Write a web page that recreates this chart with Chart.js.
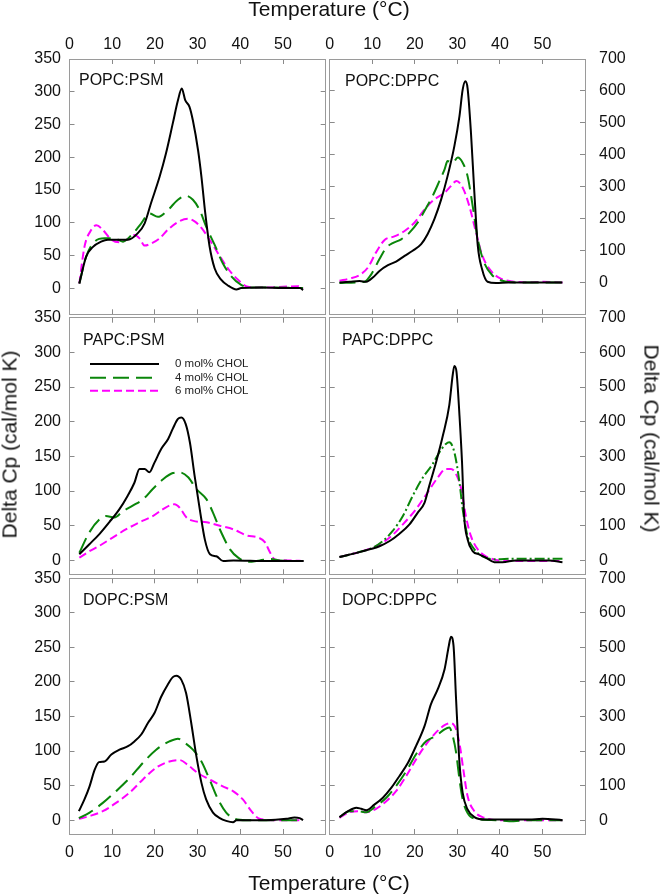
<!DOCTYPE html>
<html>
<head>
<meta charset="utf-8">
<script src="https://cdn.jsdelivr.net/npm/chart.js@4.4.0/dist/chart.umd.min.js"></script>
<style>
  body { margin: 0; background: #fff; }
  #page { position: relative; width: 660px; height: 896px; overflow: hidden; font-family: "Liberation Sans", Arial, sans-serif; color: #111; }
  #page canvas { position: absolute; left: 0; top: 0; }
  .txt { position: absolute; white-space: nowrap; }
  .panel-name { font-size: 16px; line-height: 16px; }
  .title { font-size: 21px; line-height: 21px; width: 300px; text-align: center; }
</style>
</head>
<body>
<div id="page"></div>
<script>
// axis ticks and names
const tempTicks = [0, 10, 20, 30, 40, 50];
const psmTicks = [0, 50, 100, 150, 200, 250, 300, 350];
const dppcTicks = [0, 100, 200, 300, 400, 500, 600, 700];
const panelNames = ["POPC:PSM", "POPC:DPPC", "PAPC:PSM", "PAPC:DPPC", "DOPC:PSM", "DOPC:DPPC"];
const seriesNames = ["0 mol% CHOL", "4 mol% CHOL", "6 mol% CHOL"];

// [temperature (°C), delta Cp]
const popcPsm0 = [[2.3,7],[3.9,48],[5.5,63],[7.4,71],[9.0,74],[11.3,74],[13.7,74],[16.0,84],[17.6,99],[19.1,130],[21.1,170],[22.6,206],[24.2,252],[25.4,287],[26.3,305],[27.1,287],[28.1,277],[28.9,256],[30.1,211],[30.9,170],[31.8,114],[32.8,64],[34.0,30],[35.5,13],[37.1,4],[39.1,-2],[40.2,0],[45,1],[50,0],[54,0],[54.7,-3]];
const popcPsm4 = [[2.3,7],[3.9,48],[5.9,71],[8.2,76],[10.5,76],[12.5,71],[14.5,81],[16.8,99],[18.7,114],[20.7,109],[23.0,119],[25.4,135],[27.3,141],[28.9,135],[30.5,119],[32.0,94],[34.0,66],[35.9,38],[37.9,18],[40.2,5],[42.2,1],[48,1],[54.7,0]];
const popcPsm6 = [[2.3,7],[3.5,63],[5.1,89],[6.3,96],[7.8,89],[9.8,74],[11.7,70],[13.7,75],[15.2,81],[16.4,76],[17.6,65],[19.1,68],[21.1,76],[23.0,89],[25.4,101],[27.7,106],[29.3,102],[30.9,92],[32.8,74],[34.8,53],[37.1,30],[39.4,13],[41.8,2],[45,1],[50,2],[53.5,3],[54.7,-1]];

const popcDppc0 = [[2.3,0],[4.7,2],[7.0,4],[8.6,2],[10.2,16],[11.7,36],[13.7,54],[15.6,65],[17.6,83],[19.5,99],[21.5,120],[23.0,151],[24.6,198],[26.2,260],[27.7,333],[29.3,427],[30.5,521],[31.25,604],[31.9,630],[32.4,609],[33.2,469],[34.0,281],[34.8,115],[35.8,42],[37.1,2],[39.1,-2],[42,0],[54.7,0]];
const popcDppc4 = [[2.3,-2],[6.25,0],[8.2,2],[9.8,26],[11.7,73],[13.3,109],[14.8,123],[16.8,135],[18.75,156],[20.7,188],[22.7,234],[24.2,271],[25.8,318],[27.0,354],[27.7,380],[28.9,375],[30.1,391],[31.25,375],[32.4,333],[33.6,240],[34.8,135],[36.3,62],[38.3,21],[40.6,5],[43.75,0],[54.7,0]];
const popcDppc6 = [[2.3,5],[4.7,12],[7.0,23],[9.0,47],[10.9,94],[12.9,133],[15.2,144],[17.6,161],[19.9,187],[22.3,229],[24.6,260],[27.0,281],[28.5,302],[29.8,318],[31.25,297],[32.8,240],[34.4,156],[35.9,83],[37.9,36],[40.2,12],[43.0,3],[46.9,0],[50.0,2],[54.7,0]];

const papcPsm0 = [[2.3,9],[4.6,23],[7.0,38],[9.3,55],[11.7,74],[13.6,93],[15.2,112],[16.4,132],[17.6,132],[18.7,127],[19.9,141],[21.5,161],[23.1,175],[24.2,190],[25.4,204],[26.2,206],[27.2,197],[28.2,170],[29.3,122],[30.5,74],[31.7,30],[32.9,9],[34.4,6],[36.0,-1],[38.4,0],[46.2,-1],[54.8,-1]];
const papcPsm4 = [[2.3,11],[4.6,40],[7.0,59],[8.5,64],[10.5,62],[12.5,71],[14.8,79],[17.2,88],[19.5,103],[21.9,117],[24.2,126],[25.8,127],[27.8,120],[29.7,103],[32.1,88],[33.6,69],[35.2,45],[37.6,16],[39.5,4],[41.9,-2],[44.6,0],[47.0,2],[49.3,0],[54.8,-1]];
const papcPsm6 = [[2.3,4],[4.6,13],[7.0,21],[10.1,33],[13.3,45],[16.4,55],[19.5,64],[21.9,74],[24.6,81],[25.8,76],[27.4,62],[29.0,57],[32.1,55],[35.2,50],[38.3,45],[41.5,36],[44.2,33],[45.8,26],[47.0,11],[48.2,1],[51.7,0],[54.8,-1]];

const papcDppc0 = [[2.3,10],[4.7,17],[7.0,24],[9.4,32],[11.7,41],[14.1,56],[16.4,77],[18.75,104],[20.7,138],[22.3,167],[23.4,215],[25.0,283],[26.6,360],[28.1,447],[28.9,534],[29.3,561],[29.8,544],[30.5,418],[31.1,283],[31.6,128],[32.4,61],[33.6,27],[35.2,17],[36.7,8],[38.7,-5],[40.6,-5],[43.75,0],[51.6,0],[54.7,-5]];
const papcDppc4 = [[2.3,10],[4.7,17],[7.8,27],[10.2,37],[12.5,56],[14.8,85],[17.2,128],[19.5,186],[21.9,239],[24.2,278],[25.8,312],[27.3,336],[28.1,341],[29.3,312],[30.5,225],[31.25,148],[32.4,70],[34.0,32],[35.9,12],[39.1,3],[43.0,5],[54.7,5]];
const papcDppc6 = [[2.3,10],[4.7,17],[7.8,27],[10.9,41],[14.1,66],[17.2,104],[20.3,148],[23.0,196],[25.4,239],[27.3,264],[28.5,264],[29.7,249],[30.9,206],[32.0,128],[33.2,70],[34.8,32],[36.7,12],[39.8,0],[43.75,-2],[54.7,-2]];

const dopcPsm0 = [[2.2,13],[3.5,30],[4.7,49],[5.9,73],[6.9,84],[8.2,85],[9.8,95],[11.7,102],[13.7,107],[15.2,114],[16.8,124],[18.4,141],[19.9,155],[21.5,179],[23.0,196],[24.2,207],[25.0,209],[26.2,203],[27.3,184],[28.5,141],[29.7,93],[30.9,54],[32.0,30],[33.6,11],[35.2,3],[36.7,-1],[38.3,-3],[39.1,0],[46.1,0],[50.8,2],[52.7,4],[53.9,3],[54.7,0]];
const dopcPsm4 = [[2.2,3],[4.7,11],[7.8,25],[10.9,42],[14.1,61],[17.2,83],[20.3,102],[23.4,114],[25.4,118],[27.0,112],[28.9,102],[30.9,85],[32.8,59],[34.8,30],[36.7,11],[38.7,2],[41.4,0],[54.7,0]];
const dopcPsm6 = [[2.2,2],[4.7,6],[7.8,13],[10.9,25],[14.1,40],[17.2,59],[20.3,76],[23.4,85],[25.8,87],[27.7,80],[30.1,68],[32.8,59],[35.9,49],[38.3,42],[40.6,30],[42.6,13],[44.5,2],[48.4,0],[54.7,0]];

const dopcDppc0 = [[2.3,9],[4.3,26],[6.25,36],[7.4,33],[8.6,29],[10.5,45],[12.5,65],[14.5,94],[16.4,128],[18.4,166],[20.3,215],[22.3,273],[23.8,336],[25.4,379],[27.0,437],[28.0,505],[28.5,531],[29.1,505],[29.7,350],[30.5,166],[31.25,79],[32.4,31],[34.0,9],[36.7,2],[46.9,2],[50.0,4],[54.7,0]];
const dopcDppc4 = [[2.3,9],[4.7,26],[6.6,26],[8.6,23],[10.9,41],[13.3,65],[15.6,99],[18.0,142],[20.3,191],[22.7,229],[25.0,244],[27.0,263],[28.1,268],[28.9,244],[29.7,196],[30.5,118],[31.25,60],[32.4,21],[34.4,4],[39.1,0],[42.2,-3],[46.9,0],[54.7,0]];
const dopcDppc6 = [[2.3,7],[4.7,23],[7.0,26],[8.6,23],[10.9,33],[13.3,55],[15.6,84],[18.0,128],[20.3,176],[22.7,220],[25.0,254],[27.0,275],[28.5,281],[29.7,263],[30.6,215],[31.4,147],[32.4,70],[34.0,26],[36.3,7],[39.8,0],[54.7,0]];

const W = 660, H = 896;
const FONT = '"Liberation Sans", Arial, sans-serif';
const lineColors = ["#000000", "#0a860a", "#ff00ff"];
const longDash = [16, 7], shortDash = [8, 4], dashDot = [10, 3, 2, 3];

// plot boxes in page pixels; scale boxes get a fixed size so labels are not clipped
const cols = [{ l: 69.5, r: 325.7 }, { l: 329.7, r: 585 }];
const rows = [{ t: 59, b: 314.3 }, { t: 317.7, b: 574.3 }, { t: 578.3, b: 834 }];
const X_AXIS_H = 40, Y_AXIS_W = 60;

const panels = [
  { row: 0, col: 0, series: [popcPsm0, popcPsm4, popcPsm6], yMin: -40, yMax: 350, ticks: psmTicks, dashes: [[], longDash, shortDash], lx: 79, ly: 80 },
  { row: 0, col: 1, series: [popcDppc0, popcDppc4, popcDppc6], yMin: -100, yMax: 700, ticks: dppcTicks, dashes: [[], longDash, shortDash], lx: 345, ly: 81 },
  { row: 1, col: 0, series: [papcPsm0, papcPsm4, papcPsm6], yMin: -20, yMax: 350, ticks: psmTicks, dashes: [[], longDash, shortDash], lx: 83, ly: 339.3, legend: true },
  { row: 1, col: 1, series: [papcDppc0, papcDppc4, papcDppc6], yMin: -40, yMax: 700, ticks: dppcTicks, dashes: [[], dashDot, shortDash], lx: 342, ly: 339.3 },
  { row: 2, col: 0, series: [dopcPsm0, dopcPsm4, dopcPsm6], yMin: -20, yMax: 350, ticks: psmTicks, dashes: [[], longDash, shortDash], lx: 83, ly: 599.3 },
  { row: 2, col: 1, series: [dopcDppc0, dopcDppc4, dopcDppc6], yMin: -40, yMax: 700, ticks: dppcTicks, dashes: [[], longDash, shortDash], lx: 342, ly: 599.3 }
];

const page = document.getElementById("page");

function addText(cls, text, left, top, rotate) {
  const d = document.createElement("div");
  d.className = "txt " + cls;
  d.textContent = text;
  d.style.left = left + "px";
  d.style.top = top + "px";
  if (rotate) d.style.transform = "rotate(" + rotate + "deg)";
  page.appendChild(d);
}

// legend drawn inside the PAPC:PSM panel
const legendRows = [364, 377.7, 390.7];
const cholLegend = {
  id: "cholLegend",
  afterDraw(chart) {
    const ctx = chart.ctx;
    ctx.save();
    ctx.font = "11.5px " + FONT;
    ctx.textBaseline = "middle";
    ctx.fillStyle = "#222";
    chart.data.datasets.forEach((ds, i) => {
      const y = legendRows[i];
      ctx.strokeStyle = ds.borderColor;
      ctx.lineWidth = ds.borderWidth;
      ctx.setLineDash(ds.borderDash);
      ctx.beginPath();
      ctx.moveTo(90, y);
      ctx.lineTo(159, y);
      ctx.stroke();
      ctx.setLineDash([]);
      ctx.fillText(ds.label, 175, y);
    });
    ctx.restore();
  }
};

function axis(dir, pos, min, max, values, showLabels) {
  const pad = { top: 9.4, bottom: 14.4, left: 13.5, right: 19 }[pos];
  return {
    type: "linear",
    position: pos,
    min: min,
    max: max,
    afterBuildTicks: s => { s.ticks = values.map(v => ({ value: v })); },
    afterFit: s => { if (dir === "x") s.height = X_AXIS_H; else s.width = Y_AXIS_W; },
    border: { display: true, color: "#9a9a9a", width: 1 },
    grid: { drawOnChartArea: false, drawTicks: true, tickLength: -5, color: "#8a8a8a", lineWidth: 1 },
    ticks: {
      display: showLabels, padding: pad, autoSkip: false, maxRotation: 0, minRotation: 0,
      color: "#111", font: { family: FONT, size: 16 }
    }
  };
}

panels.forEach((p, idx) => {
  const box = { l: cols[p.col].l, r: cols[p.col].r, t: rows[p.row].t, b: rows[p.row].b };
  const canvas = document.createElement("canvas");
  canvas.width = W;
  canvas.height = H;
  page.appendChild(canvas);

  new Chart(canvas, {
    type: "line",
    data: {
      datasets: p.series.map((pts, i) => ({
        label: seriesNames[i],
        data: pts.map(([x, y]) => ({ x: x, y: y })),
        borderColor: lineColors[i],
        borderWidth: 2,
        borderDash: p.dashes[i],
        pointRadius: 0,
        cubicInterpolationMode: "monotone",
        fill: false
      }))
    },
    options: {
      responsive: false,
      animation: false,
      layout: {
        padding: {
          left: box.l - Y_AXIS_W,
          top: box.t - X_AXIS_H,
          right: W - box.r - Y_AXIS_W,
          bottom: H - box.b - X_AXIS_H
        }
      },
      plugins: { legend: { display: false }, tooltip: { enabled: false } },
      scales: {
        x: axis("x", "bottom", 0, 60, tempTicks, p.row === 2),
        x2: axis("x", "top", 0, 60, tempTicks, p.row === 0),
        y: axis("y", "left", p.yMin, p.yMax, p.ticks, p.col === 0),
        y2: axis("y", "right", p.yMin, p.yMax, p.ticks, p.col === 1)
      }
    },
    plugins: p.legend ? [cholLegend] : []
  });

  addText("panel-name", panelNames[idx], p.lx, p.ly - 7.8);
});

// axis titles
addText("title", "Temperature (°C)", 329 - 150, -2.5);
addText("title", "Temperature (°C)", 329 - 150, 872.2);
addText("title", "Delta Cp (cal/mol K)", 8.7 - 150, 444 - 10.5, -90);
addText("title", "Delta Cp (cal/mol K)", 652.3 - 150, 438 - 10.5, 90);
</script>
</body>
</html>
